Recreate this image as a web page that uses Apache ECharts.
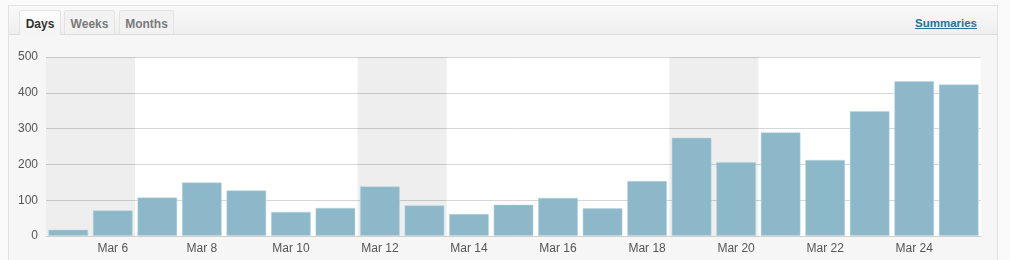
<!DOCTYPE html>
<html>
<head>
<meta charset="utf-8">
<script src="https://cdn.jsdelivr.net/npm/echarts@6/dist/echarts.min.js"></script>
<style>
  html, body { margin: 0; padding: 0; width: 1010px; height: 260px; overflow: hidden; background: #fafafa; font-family: "Liberation Sans", Arial, Helvetica, sans-serif; }
  #panel { position: absolute; left: 8px; top: 5px; width: 990px; height: 270px; border: 1px solid #e2e2e2; background: #f6f6f6; box-sizing: border-box; }
  #head { position: absolute; left: 0; top: 0; right: 0; height: 28px; border-bottom: 1px solid #dcdcdc; background: linear-gradient(#f9f9f9, #efefef); }
  .tab { position: absolute; top: 4px; height: 24px; box-sizing: border-box; border: 1px solid #e3e3e3; border-bottom: none; border-radius: 3px 3px 0 0; background: #f2f2f2; font-size: 12px; font-weight: bold; color: #7a7a7a; text-align: center; line-height: 27px; }
  .tab.active { background: linear-gradient(#fdfdfd, #f3f3f3); color: #333; height: 25px; }
  #summ { position: absolute; right: 20px; top: 11px; font-size: 11.5px; font-weight: bold; color: #21759b; text-decoration: underline; }
  #chart { position: absolute; left: 0; top: 0; width: 1010px; height: 260px; }
</style>
</head>
<body>
<div id="panel">
  <div id="head">
    <div class="tab active" style="left:10px;width:42px;">Days</div>
    <div class="tab" style="left:55px;width:51px;">Weeks</div>
    <div class="tab" style="left:110px;width:55px;">Months</div>
    <div id="summ">Summaries</div>
  </div>
</div>
<div id="chart"></div>
<script>
const categories = ['Mar 5','Mar 6','Mar 7','Mar 8','Mar 9','Mar 10','Mar 11','Mar 12','Mar 13','Mar 14','Mar 15','Mar 16','Mar 17','Mar 18','Mar 19','Mar 20','Mar 21','Mar 22','Mar 23','Mar 24','Mar 25'];
const views = [18, 72, 108, 150, 128, 68, 79, 139, 86, 62, 88, 107, 78, 154, 275, 207, 290, 213, 349, 433, 424];
const weekendDays = ['Mar 5','Mar 6','Mar 12','Mar 13','Mar 19','Mar 20'];
const yTicks = [0, 100, 200, 300, 400, 500];

const yMax = yTicks[yTicks.length - 1];
const weekendBand = categories.map(c => weekendDays.includes(c) ? yMax : '-');
const font = '"Liberation Sans", Arial, Helvetica, sans-serif';

const chart = echarts.init(document.getElementById('chart'), null, { renderer: 'canvas' });
chart.setOption({
  animation: false,
  grid: { left: 46, right: 29, top: 57, bottom: 24, show: true, backgroundColor: '#ffffff', borderWidth: 0 },
  xAxis: [
    {
      type: 'category', data: categories,
      axisLine: { show: true, lineStyle: { color: '#cfcfcf' } },
      axisTick: { show: false },
      axisLabel: { interval: (i) => i % 2 === 1, color: '#555', fontSize: 12, fontFamily: font, margin: 7 }
    },
    { type: 'category', data: categories, show: false }
  ],
  yAxis: {
    type: 'value', min: yTicks[0], max: yMax, interval: yTicks[1] - yTicks[0],
    axisLine: { show: false }, axisTick: { show: false },
    axisLabel: { color: '#555', fontSize: 12, fontFamily: font, margin: 8 },
    splitLine: { lineStyle: { color: '#d6d6d6' } }
  },
  series: [
    {
      type: 'bar', xAxisIndex: 1, data: weekendBand, barWidth: '100%', silent: true,
      itemStyle: { color: 'rgba(0,0,0,0.067)' }, z: 1
    },
    {
      type: 'bar', xAxisIndex: 0, data: views, barCategoryGap: '10%', z: 3,
      itemStyle: { color: '#8cb8ca', borderColor: '#b9d5df', borderWidth: 1, borderType: 'dotted' }
    }
  ]
});
</script>
</body>
</html>
